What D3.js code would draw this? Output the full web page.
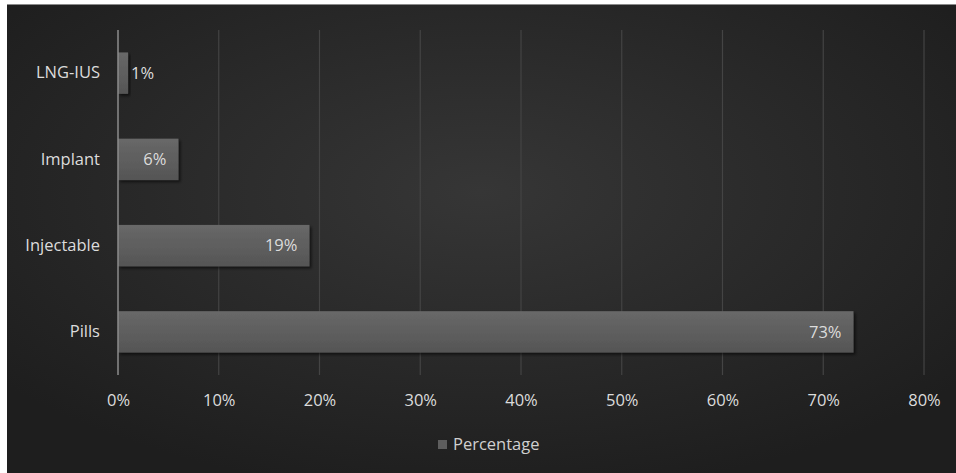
<!DOCTYPE html>
<html><head><meta charset="utf-8">
<script src="https://cdn.jsdelivr.net/npm/d3@7"></script>
<style>html,body{margin:0;padding:0;background:#fff;}svg{display:block;}</style>
</head><body>
<svg id="chart" width="956" height="473"></svg>
<script>
const categories = ["LNG-IUS", "Implant", "Injectable", "Pills"];
const values = [1, 6, 19, 73];
const tickValues = [0, 10, 20, 30, 40, 50, 60, 70, 80];
const seriesName = "Percentage";

const svg = d3.select("#chart");
const W = 956, H = 473;
const defs = svg.append("defs");
const bg = defs.append("radialGradient").attr("id","bg").attr("cx","50%").attr("cy","40%").attr("r","65%");
bg.append("stop").attr("offset","0%").attr("stop-color","#363636");
bg.append("stop").attr("offset","100%").attr("stop-color","#1e1e1e");
const bar = defs.append("linearGradient").attr("id","bar").attr("x1",0).attr("y1",0).attr("x2",0).attr("y2",1);
bar.append("stop").attr("offset","0%").attr("stop-color","#686868");
bar.append("stop").attr("offset","100%").attr("stop-color","#555");
const sh = defs.append("filter").attr("id","sh").attr("x","-10%").attr("y","-20%").attr("width","130%").attr("height","160%");
sh.append("feDropShadow").attr("dx",2).attr("dy",2).attr("stdDeviation",1.5).attr("flood-color","#000").attr("flood-opacity",0.6);

svg.append("rect").attr("x",7).attr("y",4).attr("width",W-7).attr("height",H-4).attr("fill","url(#bg)");
svg.append("line").attr("x1",7).attr("x2",W).attr("y1",4.5).attr("y2",4.5).attr("stroke","#8a8a8a").attr("stroke-width",1);

const x = d3.scaleLinear().domain([0,80]).range([118,924]);
const y = d3.scaleBand().domain(categories).range([30,375]).paddingInner(0.52).paddingOuter(0.26);

const font = "Open Sans, Lato, sans-serif";
const fs = 16.5;
// gridlines
svg.append("g").selectAll("line").data(tickValues.slice(1)).join("line")
  .attr("x1",d=>x(d)).attr("x2",d=>x(d)).attr("y1",30).attr("y2",375)
  .attr("stroke","#444").attr("stroke-width",1.2);

// bars
svg.append("g").selectAll("rect").data(values).join("rect")
  .attr("x",x(0)).attr("y",(d,i)=>y(categories[i]))
  .attr("width",d=>x(d)-x(0)).attr("height",y.bandwidth())
  .attr("fill","url(#bar)").attr("filter","url(#sh)");

// axis line
svg.append("line").attr("x1",x(0)).attr("x2",x(0)).attr("y1",30).attr("y2",375)
  .attr("stroke","#8c8c8c").attr("stroke-width",1.5);

// bar labels
svg.append("g").selectAll("text").data(values).join("text")
  .attr("x",d=> d < 3 ? x(d)+3 : x(d)-12)
  .attr("y",(d,i)=>y(categories[i])+y.bandwidth()/2)
  .attr("dy","0.35em")
  .attr("text-anchor",d=> d < 3 ? "start" : "end")
  .attr("fill","#dcdcdc").attr("font-family",font).attr("font-size",fs)
  .text(d=>d+"%");

// category labels
const yAxis = d3.axisLeft(y).tickSize(0).tickPadding(18);
const ya = svg.append("g").attr("transform",`translate(${x(0)},0)`).call(yAxis);
ya.select(".domain").remove();
ya.selectAll("text").attr("fill","#dcdcdc").attr("font-family",font).attr("font-size",fs);

// x axis
const xAxis = d3.axisBottom(x).tickValues(tickValues).tickSize(0).tickPadding(19).tickFormat(d=>d+"%");
const xa = svg.append("g").attr("transform","translate(0,375)").call(xAxis);
xa.select(".domain").remove();
xa.selectAll("text").attr("fill","#dcdcdc").attr("font-family",font).attr("font-size",fs);

// legend
const lg = svg.append("g").attr("transform","translate(438,440)");
lg.append("rect").attr("width",9).attr("height",9).attr("y",0).attr("fill","#5e5e5e");
lg.append("text").attr("x",15).attr("y",4.5).attr("dy","0.35em").attr("fill","#d0d0d0")
  .attr("font-family",font).attr("font-size",fs).text(seriesName);
</script>
</body></html>
